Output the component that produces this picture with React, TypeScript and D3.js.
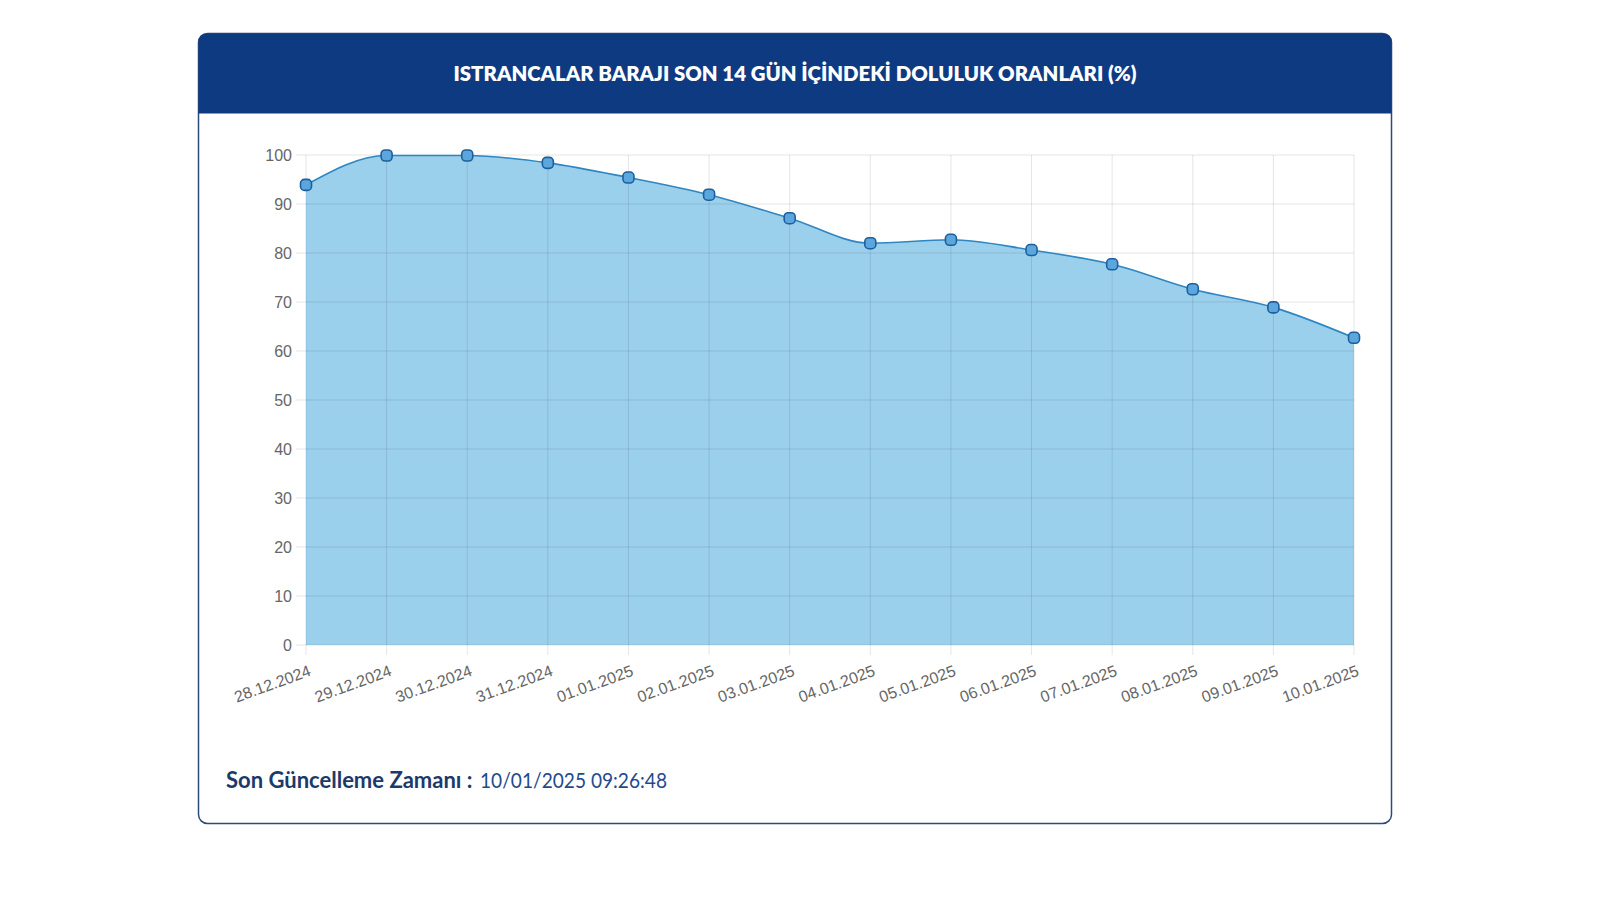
import React from "react";
import * as d3 from "d3";

const dates = [
  "28.12.2024", "29.12.2024", "30.12.2024", "31.12.2024", "01.01.2025", "02.01.2025",
  "03.01.2025", "04.01.2025", "05.01.2025", "06.01.2025", "07.01.2025", "08.01.2025",
  "09.01.2025", "10.01.2025",
];
const fillRates = [93.9, 99.9, 99.9, 98.4, 95.4, 91.9, 87.1, 82.0, 82.7, 80.6, 77.7, 72.6, 68.9, 62.7];
const yTicks = [0, 10, 20, 30, 40, 50, 60, 70, 80, 90, 100];
const title = "ISTRANCALAR BARAJI SON 14 GÜN İÇİNDEKİ DOLULUK ORANLARI (%)";
const footerLabel = "Son Güncelleme Zamanı :";
const footerValue = "10/01/2025 09:26:48";

export default function App() {
  const W = 1600, H = 900;
  const card = { x: 198.5, y: 33.5, w: 1193, h: 790, r: 9 };
  const headerH = 80;
  const plot = { left: 306, right: 1354, top: 155, bottom: 645 };

  const x = d3.scalePoint<string>().domain(dates).range([plot.left, plot.right]);
  const y = d3.scaleLinear().domain([0, 100]).range([plot.bottom, plot.top]);

  const pts: [number, number][] = fillRates.map((v, i) => [x(dates[i]) as number, y(v)]);
  const area = d3.area<[number, number]>()
    .x((d) => d[0]).y0(plot.bottom).y1((d) => d[1])
    .curve(d3.curveMonotoneX)(pts) as string;
  const line = d3.line<[number, number]>()
    .x((d) => d[0]).y((d) => d[1])
    .curve(d3.curveMonotoneX)(pts) as string;

  const tickFont = "'Liberation Sans', Arial, sans-serif";
  const titleFont = "Lato, 'Open Sans', sans-serif";

  return (
    <div style={{ position: "absolute", left: 0, top: 0 }}>
      <svg width={W} height={H} viewBox={`0 0 ${W} ${H}`} style={{ display: "block", background: "#fff" }}>
        {/* card */}
        <rect x={card.x} y={card.y} width={card.w} height={card.h} rx={card.r} ry={card.r}
          fill="#fff" stroke="#2d4a78" strokeWidth={1.5} />
        <path
          d={`M${card.x},${card.y + headerH} V${card.y + card.r} Q${card.x},${card.y} ${card.x + card.r},${card.y} H${card.x + card.w - card.r} Q${card.x + card.w},${card.y} ${card.x + card.w},${card.y + card.r} V${card.y + headerH} Z`}
          fill="#0e3a82" />
        <text x={card.x + card.w / 2} y={card.y + headerH / 2 + 7.5} textAnchor="middle"
          fill="#fff" fontFamily={titleFont} fontWeight={800} fontSize={20}
          textLength={683} lengthAdjust="spacingAndGlyphs">{title}</text>

        {/* area + grid */}
        <path d={area} fill="#9bd0ec" />
        {yTicks.map((t) => (
          <line key={"gy" + t} x1={plot.left - 10} x2={plot.right} y1={y(t)} y2={y(t)}
            stroke="rgba(0,0,0,0.1)" strokeWidth={1} />
        ))}
        {dates.map((d) => (
          <line key={"gx" + d} x1={x(d)} x2={x(d)} y1={plot.top} y2={plot.bottom + 10}
            stroke="rgba(0,0,0,0.1)" strokeWidth={1} />
        ))}
        <path d={line} fill="none" stroke="#2f86c0" strokeWidth={1.6} />
        {pts.map((p, i) => (
          <rect key={"pt" + i} x={p[0] - 5.5} y={p[1] - 5.5} width={11} height={11} rx={4} ry={4}
            fill="#5ba7dd" stroke="#1e5f9e" strokeWidth={1.6} />
        ))}

        {/* y tick labels */}
        {yTicks.map((t) => (
          <text key={"yl" + t} x={plot.left - 14} y={y(t)} dy="0.35em" textAnchor="end"
            fill="#666" fontFamily={tickFont} fontSize={16}>{t}</text>
        ))}
        {/* x tick labels */}
        {dates.map((d) => (
          <text key={"xl" + d} transform={`translate(${(x(d) as number) + 4},${plot.bottom + 25}) rotate(-20)`}
            textAnchor="end" dy="0.35em"
            fill="#666" fontFamily={tickFont} fontSize={16}>{d}</text>
        ))}

        {/* footer */}
        <text x={226} y={788} fontFamily={titleFont} fontSize={22} fill="#1b3a6b" fontWeight={700}>
          {footerLabel}
        </text>
        <text x={480} y={788} fontFamily={titleFont} fontSize={22} fill="#1f4b8e" fontWeight={400}
          textLength={187} lengthAdjust="spacingAndGlyphs">{footerValue}</text>
      </svg>
    </div>
  );
}
